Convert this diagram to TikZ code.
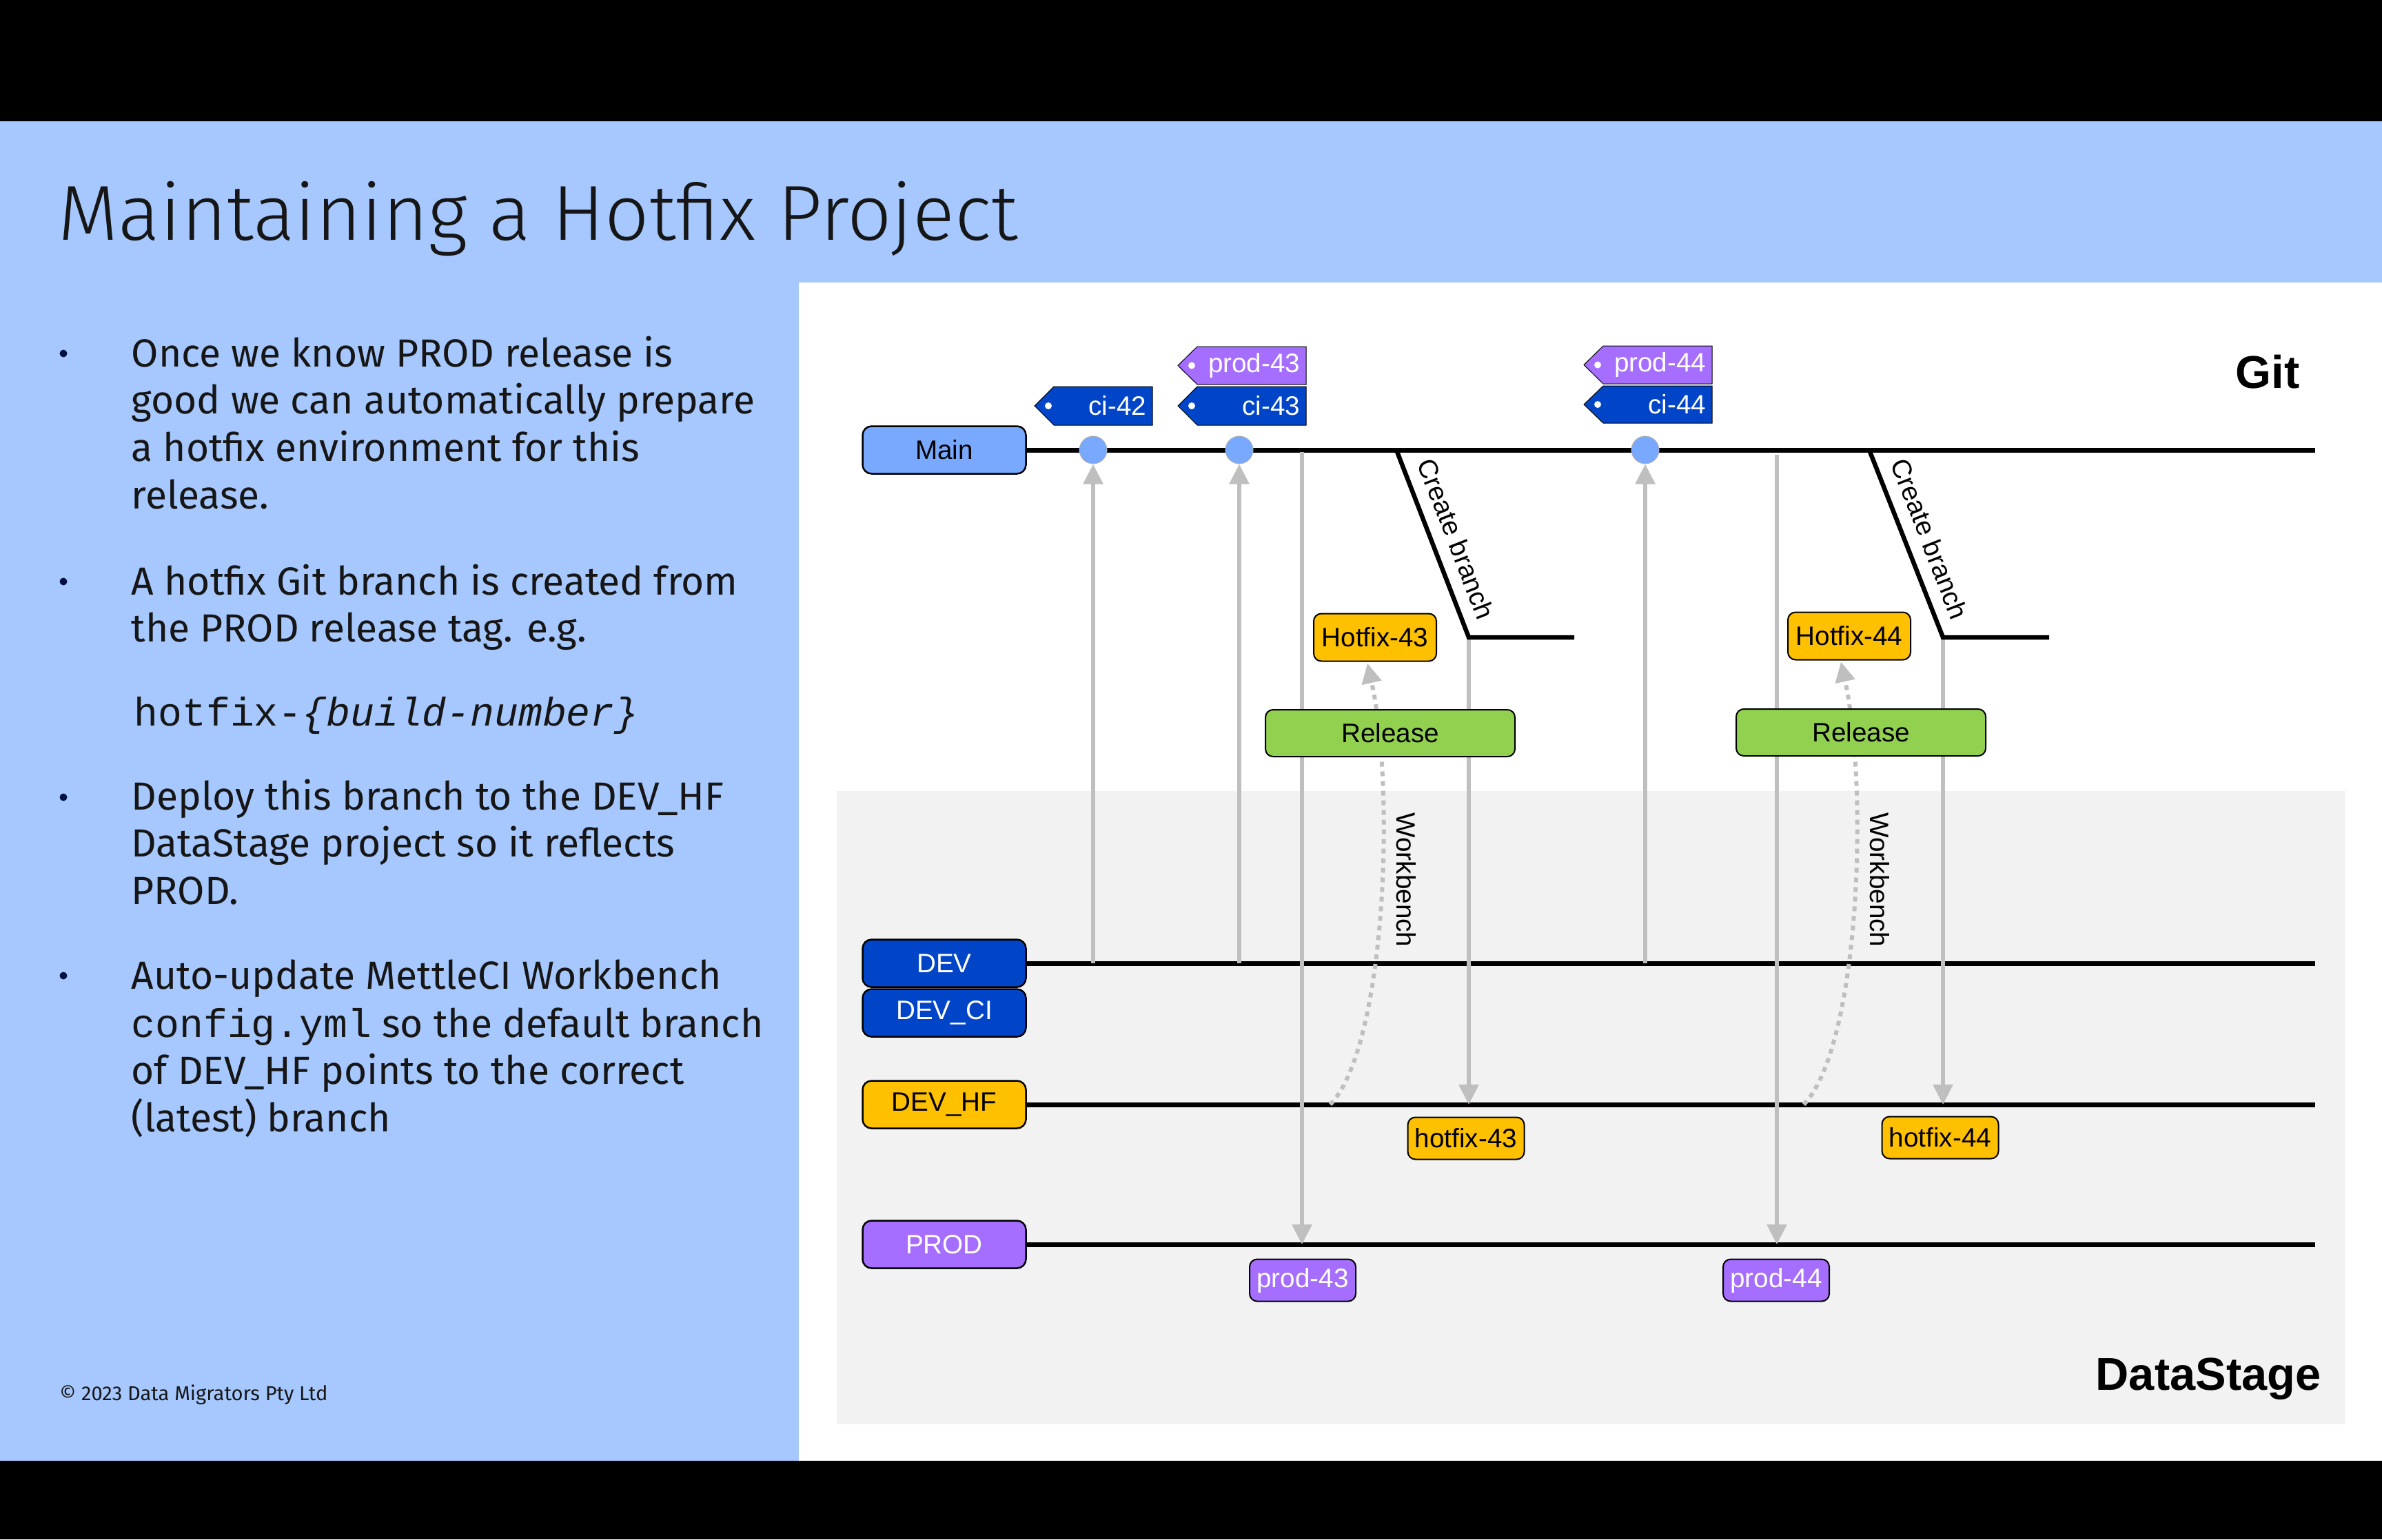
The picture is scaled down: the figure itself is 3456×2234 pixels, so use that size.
\documentclass[tikz,border=0pt]{standalone}
\usepackage{fontspec}
\setmainfont{Fira Sans}
\newfontfamily\titlefont{Fira Sans Light}
\newfontfamily\lab{Liberation Sans}
\newfontfamily\mono[Scale=1.02]{Liberation Mono}
\usetikzlibrary{arrows.meta}
\definecolor{bgblue}{HTML}{A6C8FF}
\definecolor{panelgrey}{HTML}{F2F2F2}
\definecolor{mainblue}{HTML}{78A9FF}
\definecolor{devblue}{HTML}{0045C8}
\definecolor{amber}{HTML}{FFC000}
\definecolor{purp}{HTML}{A56EFF}
\definecolor{relgreen}{HTML}{92D050}
\definecolor{greyln}{HTML}{BFBFBF}
\definecolor{bulcol}{HTML}{001141}
\definecolor{txt}{HTML}{161616}
\newcommand\gittag[7]{%
  \fill[#2, draw=black, line width=0.1mm] (#3,{(#5+#6)/2}) -- (#3+28,#5) -- (#4,#5) -- (#4,#6) -- (#3+28,#6) -- cycle;
  \fill[white] (#3+20,{(#5+#6)/2}) circle (0.5mm);
  \node[tagtext] (#1) at (#4-8,{(#5+#6)/2}) {#7};}
\begin{document}
\begin{tikzpicture}[x=0.1mm,y=-0.1mm,
  lanebox/.style={draw=black, line width=0.25mm, rounded corners=1.3mm, minimum width=23.7mm, minimum height=6.9mm, inner sep=0pt, font=\lab\fontsize{11}{13}\selectfont},
  lane/.style={line width=0.7mm, black},
  gstem/.style={draw=greyln, line width=0.6mm},
  garrow/.style={draw=greyln, line width=0.6mm, -{Triangle[width=2.8mm,length=2.9mm]}},
  dotarrow/.style={draw=greyln, line width=0.6mm, dash pattern=on 0.7mm off 0.7mm, -{Triangle[width=2.8mm,length=2.9mm]}},
  branchln/.style={line width=0.65mm, black, line join=miter},
  commit/.style={circle, fill=mainblue, draw=black!30, line width=0.1mm, minimum size=4mm, inner sep=0pt},
  body/.style={anchor=base west, inner sep=0pt, font=\fontsize{16.2}{19.6}\selectfont, text=txt},
  bulletdot/.style={circle, fill=bulcol, minimum size=1.1mm, inner sep=0pt},
  lab/.style={inner sep=0pt, font=\lab\fontsize{11}{13}\selectfont},
  tagtext/.style={anchor=east, inner sep=0pt, text=white, font=\lab\fontsize{11}{13}\selectfont},
  smallbox/.style={draw=black, line width=0.2mm, rounded corners=1.1mm, inner sep=0pt, minimum height=6.1mm, font=\lab\fontsize{11}{13}\selectfont},
  hfbox/.style={smallbox, fill=amber, minimum width=17.8mm, minimum height=6.9mm},
  relbox/.style={smallbox, fill=relgreen, minimum width=36.2mm, minimum height=6.8mm},
  hflab/.style={smallbox, fill=amber, minimum width=16.9mm},
  prodlab/.style={smallbox, fill=purp, text=white, minimum width=15.4mm},
  bigbold/.style={inner sep=0pt, anchor=base east, font=\lab\bfseries\fontsize{19}{23}\selectfont}
]
\useasboundingbox (0,0) rectangle (3456,2234);
\fill[black] (0,0) rectangle (3456,2234);
\fill[bgblue] (0,176) rectangle (3456,2120);
\fill[white] (1159,410) rectangle (3456,2120);
\fill[panelgrey] (1214,1148) rectangle (3403,2067);

% title
\node[anchor=base west, inner sep=0pt, font=\titlefont\fontsize{32.2}{39}\selectfont, text=txt] (title) at (84,348) {Maintaining a Hotfix Project};

% bullets
\node[bulletdot] (bu1) at (92,513) {};
\node[bulletdot] (bu2) at (92,844) {};
\node[bulletdot] (bu3) at (92,1157) {};
\node[bulletdot] (bu4) at (92,1416) {};
\node[body] (t1) at (190,532) {Once we know PROD release is};
\node[body] (t2) at (190,600) {good we can automatically prepare};
\node[body] (t3) at (190,669) {a hotfix environment for this};
\node[body] (t4) at (190,738) {release.};
\node[body] (t5) at (190,863) {A hotfix Git branch is created from};
\node[body] (t6) at (190,931) {the PROD release tag. e.g.};
\node[body] (t7) at (194,1053) {\mono hotfix-\itshape\{build-number\}};
\node[body] (t8) at (190,1175) {Deploy this branch to the DEV\_HF};
\node[body] (t9) at (190,1243) {DataStage project so it reflects};
\node[body] (t10) at (190,1312) {PROD.};
\node[body] (t11) at (190,1435) {Auto-update MettleCI Workbench};
\node[body] (t12) at (190,1505) {{\mono config.yml} so the default branch};
\node[body] (t13) at (190,1573) {of DEV\_HF points to the correct};
\node[body] (t14) at (190,1642) {(latest) branch};
\node[anchor=base west, inner sep=0pt, font=\fontsize{8.3}{10}\selectfont, text=txt] (copy) at (86,2032) {© 2023 Data Migrators Pty Ltd};

% lane boxes
\node[lanebox, fill=mainblue] (main) at (1370,653) {Main};
\node[lanebox, fill=devblue, text=white] (dev) at (1370,1398) {DEV};
\node[lanebox, fill=devblue, text=white] (devci) at (1370,1470) {DEV\_CI};
\node[lanebox, fill=amber] (devhf) at (1370,1603) {DEV\_HF};
\node[lanebox, fill=purp, text=white] (prod) at (1370,1806) {PROD};

\coordinate (mainE) at (3359,653);
\coordinate (devE) at (3359,1398);
\coordinate (hfE) at (3359,1603);
\coordinate (prodE) at (3359,1806);
\draw[lane] (main.east) -- (mainE);
\draw[lane] (dev.east) -- (devE);
\draw[lane] (devhf.east) -- (hfE);
\draw[lane] (prod.east) -- (prodE);

% commits
\node[commit] (c1) at (1586,653) {};
\node[commit] (c2) at (1798,653) {};
\node[commit] (c3) at (2387,653) {};
\draw[garrow] (c1 |- devE) -- (c1.south);
\draw[garrow] (c2 |- devE) -- (c2.south);
\draw[garrow] (c3 |- devE) -- (c3.south);

% deploy to prod
\coordinate (s43) at (1889,656);
\coordinate (s44) at (2578,660);
\draw[garrow] (s43) -- (s43 |- prodE);
\draw[garrow] (s44) -- (s44 |- prodE);

% create branch
\coordinate (cb43a) at (2026,653);
\coordinate (cb43b) at (2131,925);
\coordinate (cb43c) at (2284,925);
\coordinate (cb44a) at (2712,653);
\coordinate (cb44b) at (2819,925);
\coordinate (cb44c) at (2973,925);
\draw[garrow] (cb43b) -- (cb43b |- hfE);
\draw[garrow] (cb44b) -- (cb44b |- hfE);
\draw[branchln] (cb43a) -- (cb43b) -- (cb43c);
\draw[branchln] (cb44a) -- (cb44b) -- (cb44c);
\node[lab, rotate=-68.7] (cbt43) at (2113,782) {Create branch};
\node[lab, rotate=-68.7] (cbt44) at (2800,782) {Create branch};

% hotfix boxes
\node[hfbox] (hot43) at (1995,925) {Hotfix-43};
\node[hfbox] (hot44) at (2683,923) {Hotfix-44};

% workbench
\coordinate (wb43) at (1930,1603);
\coordinate (wb44) at (2617,1603);
\draw[dotarrow] (wb43) .. controls (2010,1520) and (2025,1150) .. ([xshift=-1.1mm,yshift=-0.2mm]hot43.south);
\draw[dotarrow] (wb44) .. controls (2697,1520) and (2712,1150) .. ([xshift=-1.2mm,yshift=-0.2mm]hot44.south);
\node[lab, rotate=-90] (wbt43) at (2040,1277) {Workbench};
\node[lab, rotate=-90] (wbt44) at (2727,1277) {Workbench};

% release boxes
\node[relbox] (rel43) at (2017,1064) {Release};
\node[relbox] (rel44) at (2700,1063) {Release};

% labels below lanes
\node[hflab] (hl43) at (2127,1652) {hotfix-43};
\node[hflab] (hl44) at (2815,1651) {hotfix-44};
\node[prodlab] (pl43) at (1890,1858) {prod-43};
\node[prodlab] (pl44) at (2577,1858) {prod-44};

% tags
\gittag{tci42}{devblue}{1501}{1672}{561}{617}{ci-42}
\gittag{tci43}{devblue}{1709}{1895}{561}{617}{ci-43}
\gittag{tprod43}{purp}{1709}{1895}{503}{558}{prod-43}
\gittag{tci44}{devblue}{2298}{2484}{560}{614}{ci-44}
\gittag{tprod44}{purp}{2298}{2484}{502}{557}{prod-44}

% section labels
\node[bigbold] (git) at (3337,563) {Git};
\node[bigbold] (ds) at (3368,2017) {DataStage};
\end{tikzpicture}
\end{document}
